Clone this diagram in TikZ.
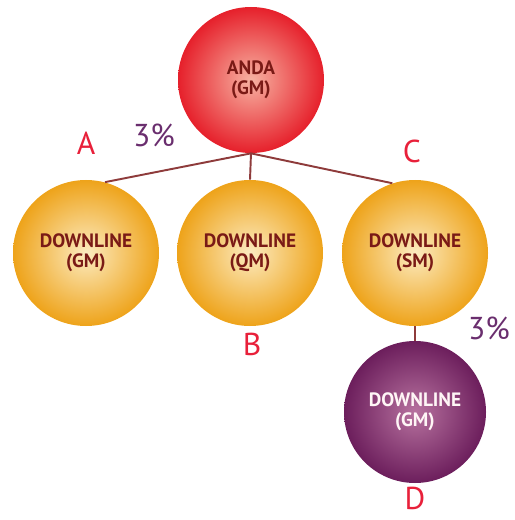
\documentclass[tikz,border=0pt]{standalone}
\usepackage{fontspec}
\setmainfont{PT Sans}
\usepackage{xcolor}
\definecolor{andared}{HTML}{E6202B}
\definecolor{andalight}{HTML}{F7B2A2}
\definecolor{dlorange}{HTML}{EEA31A}
\definecolor{dllight}{HTML}{FCEBC0}
\definecolor{dlpurple}{HTML}{6C1E5C}
\definecolor{dlplight}{HTML}{B7729F}
\definecolor{linkred}{HTML}{8E3B3B}
\definecolor{lblred}{HTML}{E8203A}
\definecolor{pctpurple}{HTML}{6A2E6E}
\definecolor{txtbrown}{HTML}{7A1A16}

\begin{document}
\begin{tikzpicture}[x=0.02cm, y=-0.02cm,
  ball/.style={circle, draw=none, minimum size=146*0.02cm, inner sep=0pt, align=center,
    font=\fontsize{11}{11.5}\selectfont\bfseries, text=txtbrown, shading=radial},
  letter/.style={text=lblred, inner sep=0pt, font=\fontsize{18}{20}\selectfont},
  pct/.style={text=pctpurple, inner sep=0pt, font=\fontsize{18}{20}\selectfont},
  link/.style={linkred, line width=1.1pt}]
\useasboundingbox (0,0) rectangle (514,520);
% top
\node[ball, inner color=andalight, outer color=andared] (anda) at (251,80) {ANDA\\(GM)};
% downlines
\foreach \x/\name/\lvl in {86/dlA/GM, 250/dlB/QM, 415/dlC/SM} {
 \node[ball, inner color=dllight, outer color=dlorange] (\name) at (\x,253) {DOWNLINE\\(\lvl)};
}
\node[ball, minimum size=142*0.02cm, inner color=dlplight, outer color=dlpurple, text=white!85!pink] (dlD) at (415,412) {DOWNLINE\\(GM)};
% links
\draw[link] (anda.south) -- (dlA.75);
\draw[link] (anda.south) -- (dlB.north);
\draw[link] (anda.south) -- (dlC.108);
\draw[link] (dlC.south) -- (dlD.north);
% labels
\node[letter] (lA) at (86,143) {A};
\node[letter] (lB) at (252,344) {B};
\node[letter] (lC) at (412,151) {C};
\node[letter] (lD) at (415,498) {D};
\node[pct] (p1) at (154,135) {3\%};
\node[pct] (p2) at (489,328) {3\%};
\end{tikzpicture}
\end{document}
